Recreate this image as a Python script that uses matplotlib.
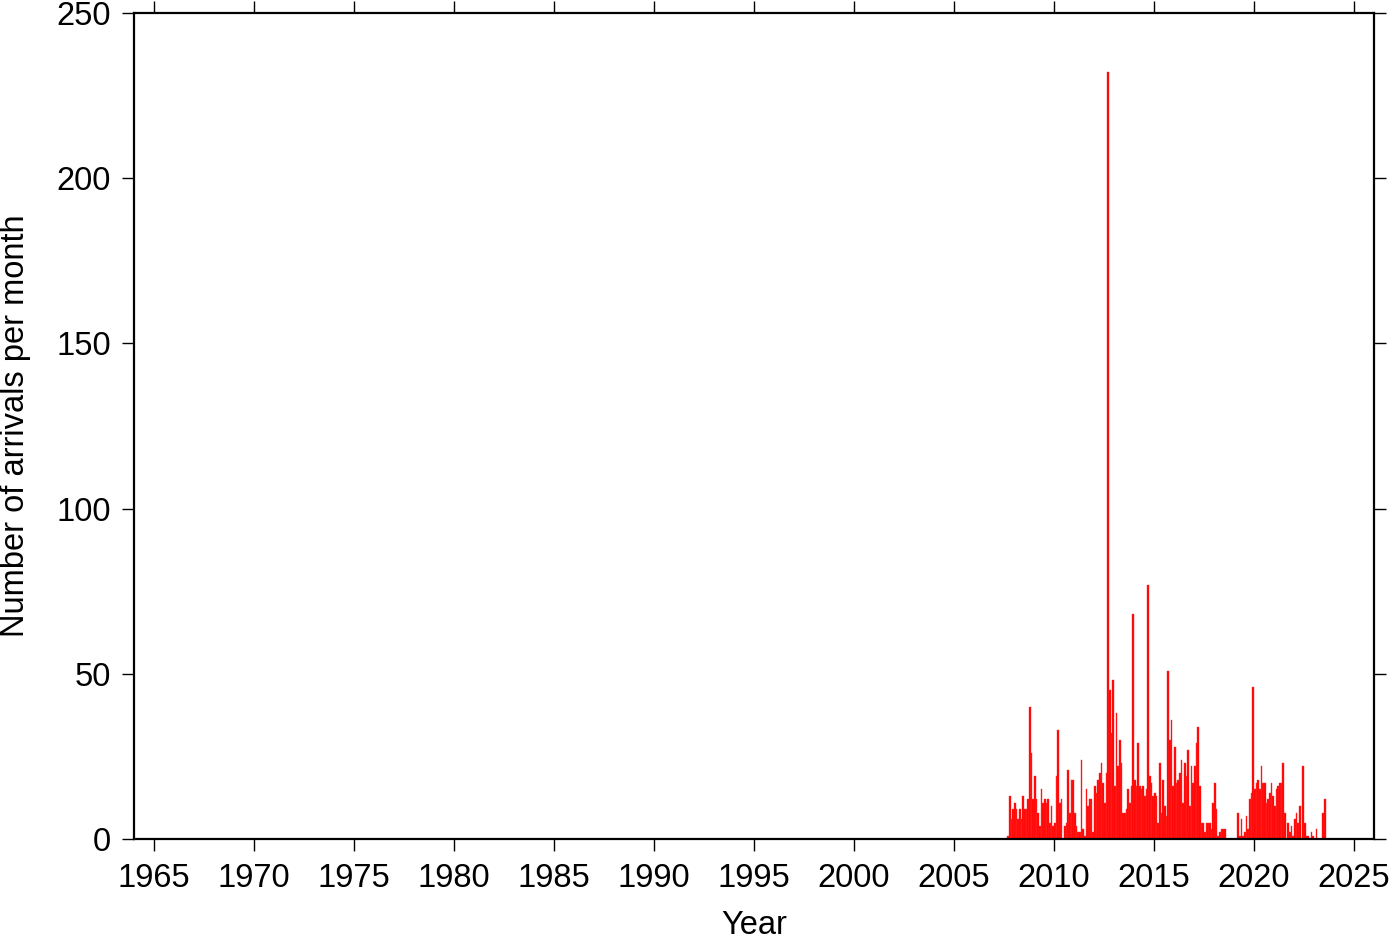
import numpy as np
import matplotlib
matplotlib.use("Agg")
import matplotlib.pyplot as plt

# monthly arrival counts, first month = September 2007
start_year = 2007
start_month = 9
counts = [
    1, 13, 6, 9, 11, 9, 6, 9, 6, 13, 9, 9, 12, 40, 26, 12, 19, 12, 8, 4,
    15, 11, 12, 11, 12, 5, 10, 4, 5, 19, 33, 11, 12, 0, 4, 5, 21, 8, 18, 18,
    8, 4, 2, 2, 24, 3, 1, 15, 10, 12, 12, 2, 16, 14, 18, 20, 23, 17, 11, 20,
    232, 45, 32, 48, 16, 38, 22, 30, 23, 8, 8, 9, 15, 11, 16, 68, 18, 16, 29, 16,
    15, 16, 13, 15, 77, 19, 17, 13, 14, 13, 5, 23, 8, 18, 10, 7, 51, 30, 36, 16,
    28, 17, 18, 20, 24, 11, 23, 19, 27, 10, 22, 17, 22, 29, 34, 16, 5, 5, 2, 5,
    5, 5, 3, 11, 17, 9, 1, 2, 3, 3, 3, 0, 0, 0, 0, 0, 0, 0, 8, 1,
    6, 1, 2, 7, 3, 12, 14, 46, 15, 17, 18, 15, 22, 17, 17, 11, 12, 14, 17, 13,
    10, 15, 16, 17, 17, 23, 8, 0, 5, 2, 4, 1, 6, 8, 5, 10, 0, 22, 5, 1,
    1, 0, 2, 1, 0, 3, 0, 0, 0, 8, 12,
]

x_ticks = list(range(1965, 2030, 5))
y_ticks = [0, 50, 100, 150, 200, 250]

plt.rcParams["font.family"] = ["Liberation Sans", "DejaVu Sans"]

months = np.arange(len(counts))
x = start_year + (start_month - 1 + months) / 12.0

fig = plt.figure(figsize=(14, 9.42), dpi=100)
ax = fig.add_axes([0.0957, 0.1093, 0.8857, 0.8769])
ax.bar(x, counts, width=1 / 12, align="edge", color="#ff0000",
       edgecolor="#ff3030", linewidth=0.3)

ax.set_xlim(1964, 2026)
ax.set_ylim(0, 250)
ax.set_xticks(x_ticks)
ax.set_yticks(y_ticks)
ax.tick_params(direction="out", length=8.5, width=1.0, labelsize=23.5,
               top=True, right=True, labeltop=False, labelright=False)
ax.tick_params(axis="x", pad=9)
ax.tick_params(axis="y", pad=8)
for s in ax.spines.values():
    s.set_linewidth(1.6)

ax.set_xlabel("Year", fontsize=23.5, labelpad=11)
ax.set_ylabel("Number of arrivals per month", fontsize=23.5, labelpad=18)

fig.savefig("out.png", dpi=100)
